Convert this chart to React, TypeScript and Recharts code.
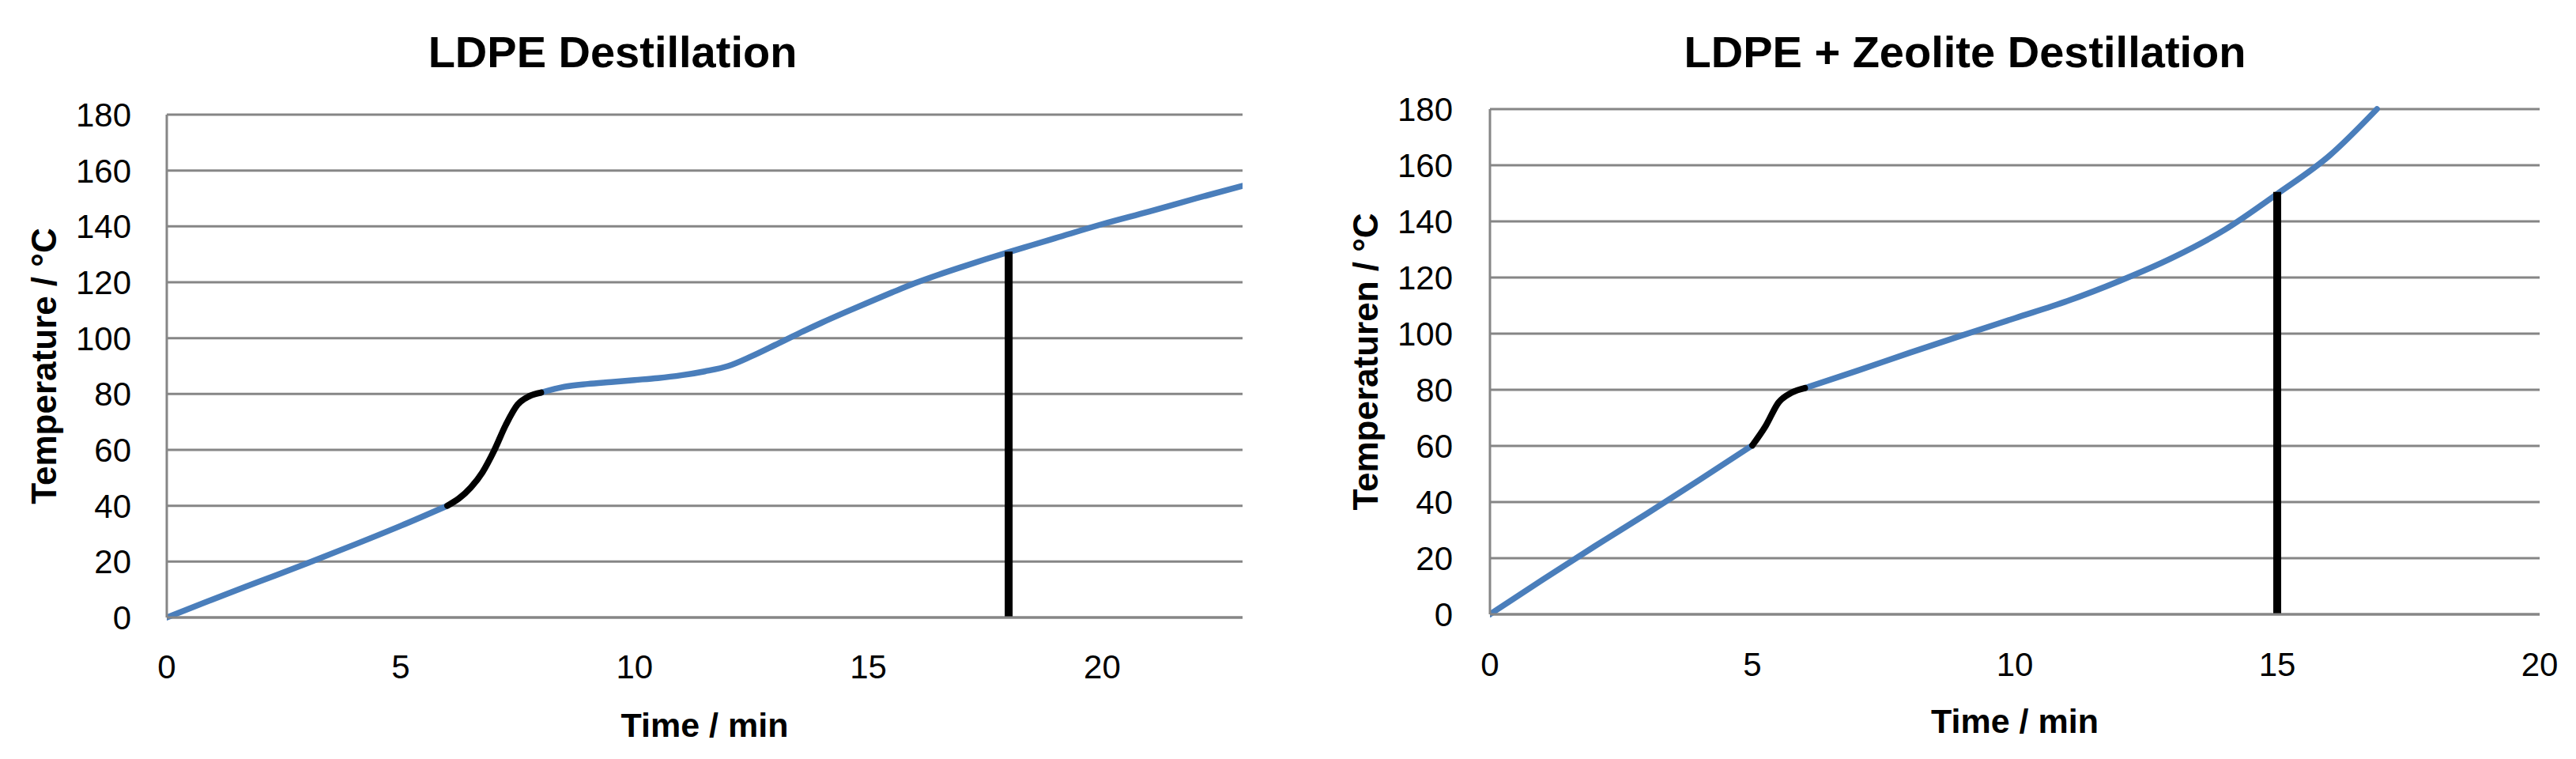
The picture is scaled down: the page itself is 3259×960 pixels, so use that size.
import React from 'react';
import { LineChart, Line, XAxis, YAxis, CartesianGrid } from 'recharts';

const FONT = '"Liberation Sans", Arial, Helvetica, sans-serif';
const BLUE = '#4A7EBB';
const GRID = '#868686';
const BLACK = '#000000';

const yTicks = [0, 20, 40, 60, 80, 100, 120, 140, 160, 180];
const xTicks = [0, 5, 10, 15, 20];

// LDPE distillation
const ldpeHeatTime = [0, 1, 2, 3, 4, 5, 6];
const ldpeHeatTemp = [0, 6.6, 13, 19.4, 26, 32.8, 40];
const ldpeBoilTime = [6, 6.5, 6.75, 7, 7.25, 7.5, 7.75, 8];
const ldpeBoilTemp = [40, 46.5, 52, 59.8, 69, 76.2, 79.2, 80.5];
const ldpeRestTime = [8, 8.5, 9, 9.5, 10, 10.5, 11, 11.5, 12, 12.5, 13, 13.5, 14, 14.5, 15, 15.5, 16, 16.5, 17, 17.5, 18, 18.5, 19, 20, 21, 22, 23];
const ldpeRestTemp = [80.5, 82.6, 83.6, 84.3, 85, 85.7, 86.7, 88.1, 90.0, 93.5, 97.5, 101.6, 105.5, 109.2, 112.8, 116.3, 119.7, 122.7, 125.5, 128.2, 130.8, 133.3, 135.8, 140.8, 145.3, 150, 154.5];
const ldpeCutTime = [18, 18];
const ldpeCutTemp = [0, 131];

// LDPE + Zeolite distillation
const zeoHeatTime = [0, 1, 2, 3, 4, 5];
const zeoHeatTemp = [0, 12.3, 24.3, 36, 48, 60.2];
const zeoBoilTime = [5, 5.25, 5.5, 5.75, 6];
const zeoBoilTemp = [60.2, 67, 75.5, 79, 80.6];
const zeoRestTime = [6, 7, 8, 9, 10, 11, 12, 13, 14, 15, 16, 16.9];
const zeoRestTemp = [80.6, 86.8, 93.2, 99.4, 105.5, 111.6, 118.8, 127, 137, 149.8, 163.5, 180];
const zeoCutTime = [15, 15];
const zeoCutTemp = [0, 150.5];

const toPts = (xs: number[], ys: number[]) => xs.map((x, i) => ({ x, y: ys[i] }));

type Seg = { data: { x: number; y: number }[]; color: string; width: number; type: 'monotone' | 'linear' };

type PanelProps = {
  left: number;
  width: number;
  plot: { left: number; right: number; top: number; bottom: number };
  xMax: number;
  segments: Seg[];
  yLabel: string;
  yLabelOffset: number;
  xLabelOffset: number;
  yTickGap: number;
  xTickGap: number;
};

function Panel(p: PanelProps) {
  const yAxisW = 200;
  const xAxisH = 160;
  const margin = {
    top: p.plot.top,
    left: p.plot.left - yAxisW,
    right: p.width - p.plot.right,
    bottom: 960 - p.plot.bottom - xAxisH,
  };
  const tickStyle = { fontSize: 42, fill: '#000', fontFamily: FONT };
  const labelStyle = { fontSize: 44, fontWeight: 'bold', fill: '#000', fontFamily: FONT };
  return (
    <div style={{ position: 'absolute', left: p.left, top: 0 }}>
      <LineChart width={p.width} height={960} margin={margin}>
        <CartesianGrid vertical={false} stroke={GRID} strokeWidth={3} />
        <XAxis
          type="number"
          dataKey="x"
          domain={[0, p.xMax]}
          ticks={xTicks}
          allowDataOverflow
          height={xAxisH}
          axisLine={{ stroke: GRID, strokeWidth: 3 }}
          tickLine={false}
          tickSize={0}
          tickMargin={p.xTickGap}
          tick={tickStyle}
          label={{ value: 'Time / min', position: 'insideBottom', offset: p.xLabelOffset, style: { ...labelStyle, fontSize: 43 } }}
        />
        <YAxis
          type="number"
          domain={[0, 180]}
          ticks={yTicks}
          width={yAxisW}
          axisLine={{ stroke: GRID, strokeWidth: 3 }}
          tickLine={false}
          tickSize={0}
          tickMargin={p.yTickGap}
          tick={tickStyle}
          label={{ value: p.yLabel, angle: -90, position: 'insideLeft', offset: p.yLabelOffset, style: { ...labelStyle, textAnchor: 'middle' } }}
        />
        {p.segments.map((s, i) => (
          <Line
            key={i}
            data={s.data}
            dataKey="y"
            type={s.type}
            stroke={s.color}
            strokeWidth={s.width}
            dot={false}
            activeDot={false}
            isAnimationActive={false}
            strokeLinecap={s.type === 'linear' ? 'butt' : 'round'}
          />
        ))}
      </LineChart>
    </div>
  );
}

export default function App() {
  const ldpeSegs: Seg[] = [
    { data: toPts(ldpeHeatTime, ldpeHeatTemp), color: BLUE, width: 7.5, type: 'monotone' },
    { data: toPts(ldpeRestTime, ldpeRestTemp), color: BLUE, width: 7.5, type: 'monotone' },
    { data: toPts(ldpeBoilTime, ldpeBoilTemp), color: BLACK, width: 8, type: 'monotone' },
    { data: toPts(ldpeCutTime, ldpeCutTemp), color: BLACK, width: 10, type: 'linear' },
  ];
  const zeoSegs: Seg[] = [
    { data: toPts(zeoHeatTime, zeoHeatTemp), color: BLUE, width: 7.5, type: 'monotone' },
    { data: toPts(zeoRestTime, zeoRestTemp), color: BLUE, width: 7.5, type: 'monotone' },
    { data: toPts(zeoBoilTime, zeoBoilTemp), color: BLACK, width: 8, type: 'monotone' },
    { data: toPts(zeoCutTime, zeoCutTemp), color: BLACK, width: 10, type: 'linear' },
  ];
  return (
    <div style={{ position: 'absolute', left: 0, top: 0, width: 3259, height: 960, background: '#fff', overflow: 'hidden' }}>
      <Panel
        left={0}
        width={1620}
        plot={{ left: 211, right: 1572, top: 145, bottom: 781 }}
        xMax={23}
        segments={ldpeSegs}
        yLabel="Temperature / °C"
        yLabelOffset={44}
        xLabelOffset={9}
        yTickGap={45}
        xTickGap={47}
      />
      <Panel
        left={1640}
        width={1619}
        plot={{ left: 245, right: 1573, top: 138, bottom: 777 }}
        xMax={20}
        segments={zeoSegs}
        yLabel="Temperaturen / °C"
        yLabelOffset={42}
        xLabelOffset={10}
        yTickGap={47}
        xTickGap={48}
      />
      <svg width={3259} height={960} style={{ position: 'absolute', left: 0, top: 0, pointerEvents: 'none' }}>
        <text x={775} y={85} textAnchor="middle" fontFamily={FONT} fontWeight="bold" fontSize={56} fill="#000">LDPE Destillation</text>
        <text x={2486} y={85} textAnchor="middle" fontFamily={FONT} fontWeight="bold" fontSize={56} fill="#000">LDPE + Zeolite Destillation</text>
      </svg>
    </div>
  );
}
